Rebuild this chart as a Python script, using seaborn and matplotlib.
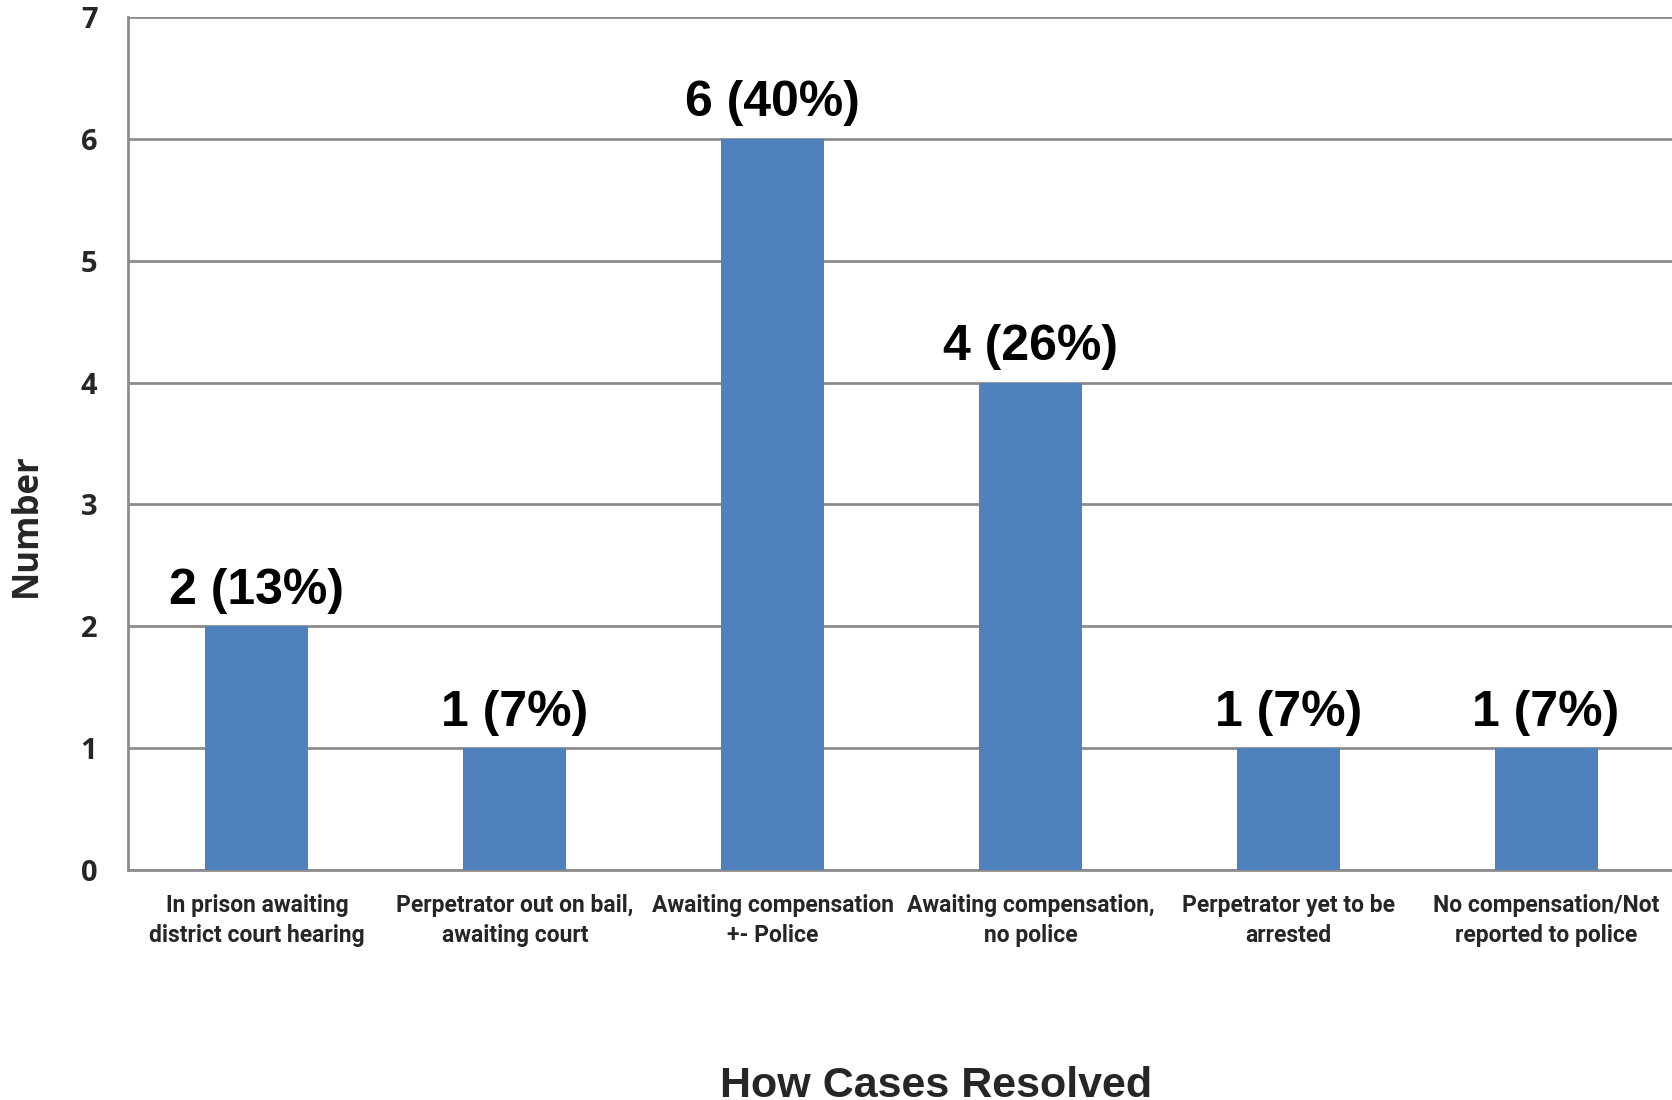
import matplotlib
matplotlib.use("Agg")
import matplotlib.pyplot as plt
import seaborn as sns
import pandas as pd

categories = [
    "In prison awaiting\ndistrict court hearing",
    "Perpetrator out on bail,\nawaiting court",
    "Awaiting compensation\n+- Police",
    "Awaiting compensation,\nno police",
    "Perpetrator yet to be\narrested",
    "No compensation/Not\nreported to police",
]
counts = [2, 1, 6, 4, 1, 1]
percents = [13, 7, 40, 26, 7, 7]
y_ticks = [0, 1, 2, 3, 4, 5, 6, 7]

sns.set_theme(style="white")

df = pd.DataFrame({"category": categories, "count": counts})

fig = plt.figure(figsize=(16.72, 11.0), dpi=100)
ax = fig.add_axes([128 / 1672, 1 - 870 / 1100, (1675 - 128) / 1672, (870 - 17) / 1100])

sns.barplot(data=df, x="category", y="count", color="#4F81BD", saturation=1,
            width=0.40, ax=ax, zorder=3, edgecolor="none", linewidth=0)

ax.set_ylim(0, 7)
ax.set_xlim(-0.5, len(categories) - 0.5)
ax.set_yticks(y_ticks)
ax.set_yticklabels([str(t) for t in y_ticks], fontfamily="Open Sans",
                   fontweight="bold", fontsize=21)
ax.set_xticks(range(len(categories)))
ax.set_xticklabels(categories, fontfamily="Roboto", fontweight="bold",
                   fontsize=16.5, linespacing=1.4)
ax.tick_params(axis="y", length=0, pad=22)
ax.tick_params(axis="x", length=0, pad=17)

ax.yaxis.grid(True, color="#8C8C8C", linewidth=2, zorder=0)
ax.set_axisbelow(True)
for side in ("top", "right"):
    ax.spines[side].set_visible(False)
for side in ("left", "bottom"):
    ax.spines[side].set_color("#8C8C8C")
    ax.spines[side].set_linewidth(2)

for i, (c, p) in enumerate(zip(counts, percents)):
    ax.annotate(f"{c} ({p}%)", xy=(i, c), xytext=(0, 9), textcoords="offset points",
                ha="center", va="bottom", fontsize=36, fontweight="bold",
                fontfamily="Liberation Sans", color="black")

ax.set_xlabel("")
fig.text(936 / 1672, 3 / 1100, "How Cases Resolved", ha="center", va="baseline",
         fontfamily="Liberation Sans", fontweight="bold", fontsize=31)
ax.set_ylabel("Number", fontfamily="Open Sans", fontweight="bold", fontsize=25)
ax.yaxis.set_label_coords(-0.054, 0.404)

fig.savefig("out.png", dpi=100, facecolor="white")
